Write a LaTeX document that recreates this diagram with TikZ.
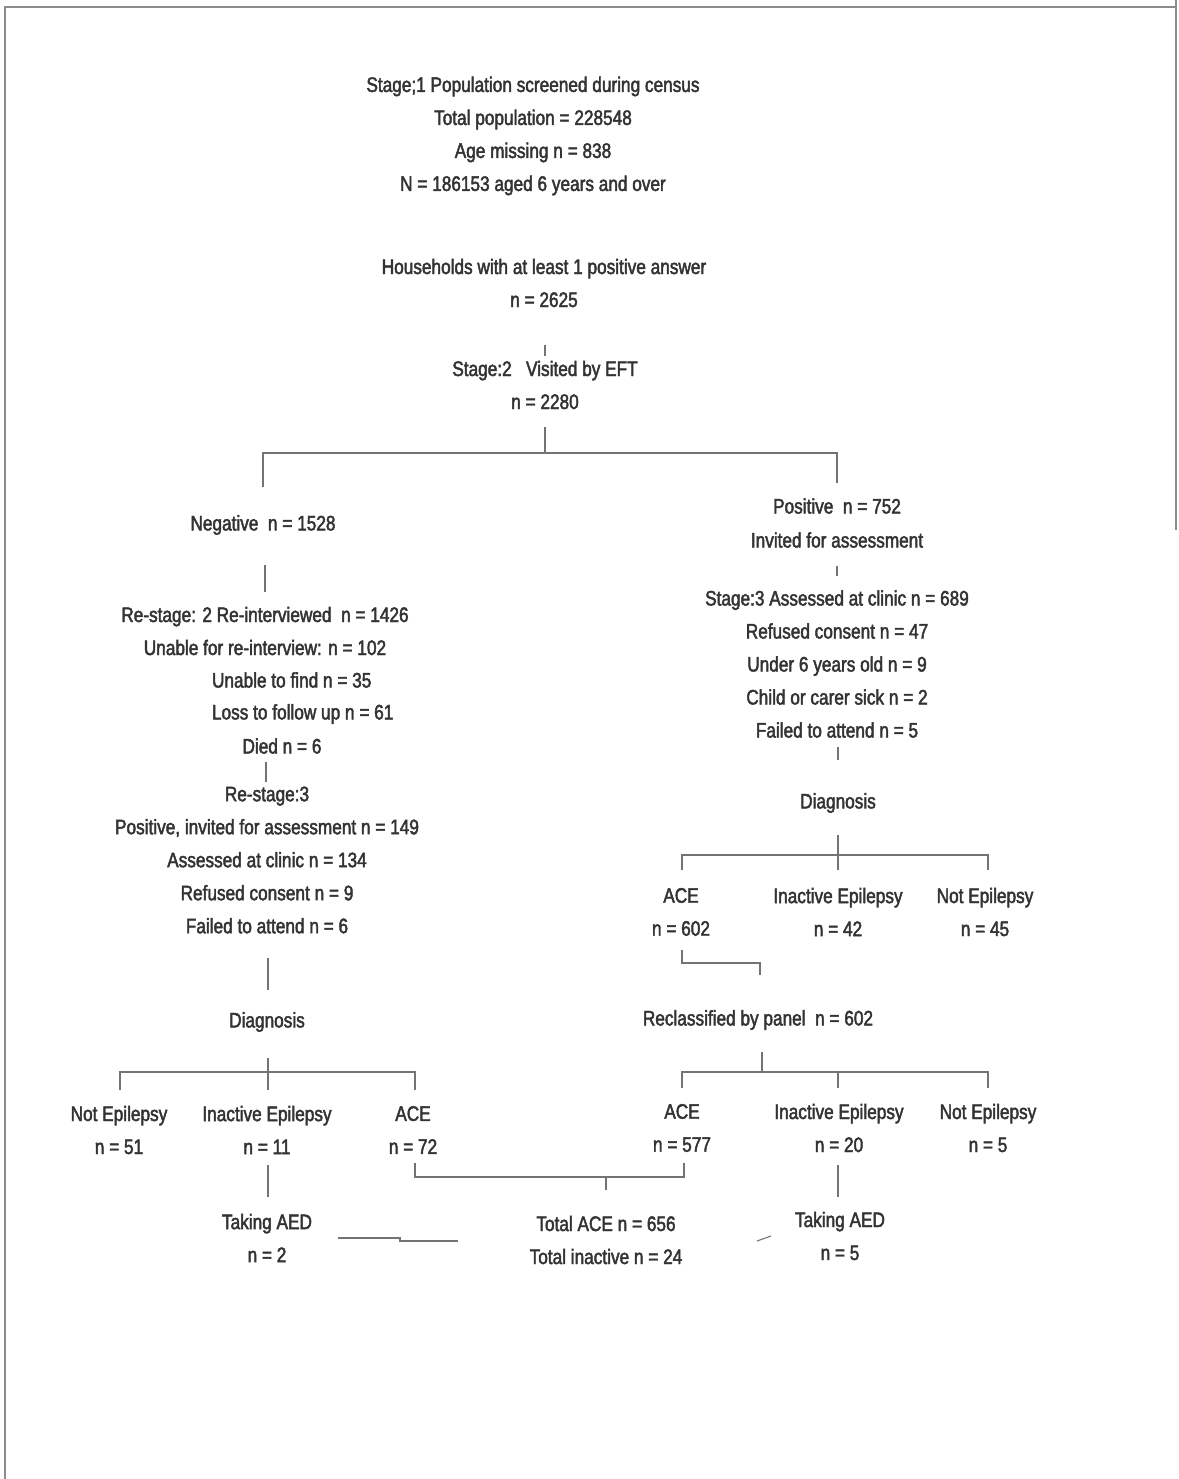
\documentclass[tikz,border=0pt]{standalone}
\usepackage{fontspec}
\setmainfont[FakeStretch=0.82]{Liberation Sans}
\begin{document}
\begin{tikzpicture}[x=1pt,y=-1pt,
  lbl/.style={inner sep=0pt,outer sep=0pt,align=center,text=black!80,
    font=\fontsize{21}{33}\selectfont,
    execute at begin node={\special{pdf:code 2 Tr 0.45 w}},
    execute at end node={\special{pdf:code 0 Tr}}},
  conn/.style={draw=black!55,line width=1.1pt},
  frame/.style={draw=black!45,line width=1.2pt}]
\useasboundingbox (0,0) rectangle (1178,1479);
% scan page edges
\coordinate (fTL) at (5,7);
\coordinate (fTR) at (1176,7);
\coordinate (fBL) at (5,1479);
\coordinate (fRt) at (1176,0);
\coordinate (fRb) at (1176,530);
\draw[frame] (fBL) -- (fTL) -- (fTR);
\draw[frame] (fRt) -- (fRb);

% ---------- nodes ----------
\node[lbl] (s1) at (533,136) {Stage;1 Population screened during census\\Total population = 228548\\Age missing n = 838\\N = 186153 aged 6 years and over};
\node[lbl] (hh) at (544,283) {Households with at least 1 positive answer\\n = 2625};
\node[lbl] (s2) at (545,385) {Stage:2\ \ \ Visited by EFT\\n = 2280};
\node[lbl] (neg) at (263,525) {Negative\ \ n = 1528};
\node[lbl] (pos) at (837,523) {Positive\ \ n = 752\\[1pt]Invited for assessment};
\node[lbl] (s3) at (837,664) {Stage:3 Assessed at clinic n = 689\\Refused consent n = 47\\Under 6 years old n = 9\\Child or carer sick n = 2\\Failed to attend n = 5};
\node[lbl] (rdiag) at (838,803) {Diagnosis};
\node[lbl] (race) at (681,912) {ACE\\n = 602};
\node[lbl] (rinact) at (838,912) {Inactive Epilepsy\\n = 42};
\node[lbl] (rnot) at (985,912) {Not Epilepsy\\n = 45};
\node[lbl] (recl) at (758,1020) {Reclassified by panel\ \ n = 602};
\node[lbl] (race2) at (682,1128) {ACE\\n = 577};
\node[lbl] (rinact2) at (839,1128) {Inactive Epilepsy\\n = 20};
\node[lbl] (rnot2) at (988,1128) {Not Epilepsy\\n = 5};
\node[lbl] (raed) at (840,1236) {Taking AED\\n = 5};

\node[lbl] (rest2) at (265,631) {Re-stage: 2 Re-interviewed\ \ n = 1426\\Unable for re-interview: n = 102};
\node[lbl,anchor=west] (unfind) at (212,680) {Unable to find n = 35};
\node[lbl,anchor=west] (loss) at (212,714) {Loss to follow up n = 61};
\node[lbl] (died) at (282,746) {Died n = 6};
\node[lbl] (rest3) at (267,860) {Re-stage:3\\Positive, invited for assessment n = 149\\Assessed at clinic n = 134\\Refused consent n = 9\\Failed to attend n = 6};
\node[lbl] (ldiag) at (267,1022) {Diagnosis};
\node[lbl] (lnot) at (119,1130) {Not Epilepsy\\n = 51};
\node[lbl] (linact) at (267,1130) {Inactive Epilepsy\\n = 11};
\node[lbl] (lace) at (413,1130) {ACE\\n = 72};
\node[lbl] (laed) at (267,1238) {Taking AED\\n = 2};
\node[lbl] (total) at (606,1240) {Total ACE n = 656\\Total inactive n = 24};

% ---------- level coordinates ----------
\coordinate (y345) at (0,345);  \coordinate (y356) at (0,356);
\coordinate (y427) at (0,427);  \coordinate (y453) at (0,453);
\coordinate (y487) at (0,487);  \coordinate (y483) at (0,483);
\coordinate (y565) at (0,565);  \coordinate (y592) at (0,592);
\coordinate (y566) at (0,566);  \coordinate (y576) at (0,576);
\coordinate (y747) at (0,747);  \coordinate (y760) at (0,760);
\coordinate (y835) at (0,835);  \coordinate (y855) at (0,855);
\coordinate (y870) at (0,870);
\coordinate (y950) at (0,950);  \coordinate (y963) at (0,963);
\coordinate (y975) at (0,975);
\coordinate (y1052) at (0,1052); \coordinate (y1072) at (0,1072);
\coordinate (y1088) at (0,1088); \coordinate (y1090) at (0,1090);
\coordinate (y1058) at (0,1058);
\coordinate (y1165) at (0,1165); \coordinate (y1197) at (0,1197);
\coordinate (y1163) at (0,1163); \coordinate (y1177) at (0,1177);
\coordinate (y1190) at (0,1190);
\coordinate (y762) at (0,762);  \coordinate (y782) at (0,782);
\coordinate (y958) at (0,958);  \coordinate (y990) at (0,990);

% ---------- connectors ----------
% households -> stage 2
\draw[conn] (s2 |- y345) -- (s2 |- y356);
% stage 2 split
\draw[conn] (s2 |- y427) -- (s2 |- y453);
\draw[conn] (neg |- y487) -- (neg |- y453) -- (pos |- y453) -- (pos |- y483);
% negative -> re-stage 2
\draw[conn] ([xshift=2pt]neg.center |- y565) -- ([xshift=2pt]neg.center |- y592);
% positive -> stage 3
\draw[conn] (s3 |- y566) -- (s3 |- y576);
% stage 3 -> diagnosis
\draw[conn] (rdiag |- y747) -- (rdiag |- y760);
% right diagnosis tree
\draw[conn] (rdiag |- y835) -- (rdiag |- y870);
\draw[conn] ([xshift=1pt]race.center |- y870) -- ([xshift=1pt]race.center |- y855)
  -- ([xshift=3pt]rnot.center |- y855) -- ([xshift=3pt]rnot.center |- y870);
% ACE 602 -> reclassified
\draw[conn] ([xshift=1pt]race.center |- y950) -- ([xshift=1pt]race.center |- y963)
  -- ([xshift=2pt]recl.center |- y963) -- ([xshift=2pt]recl.center |- y975);
% reclassified tree
\draw[conn] ([xshift=4pt]recl.center |- y1052) -- ([xshift=4pt]recl.center |- y1072);
\draw[conn] (race2 |- y1088) -- (race2 |- y1072) -- (rnot2 |- y1072) -- (rnot2 |- y1088);
\draw[conn] ([xshift=-1pt]rinact2.center |- y1072) -- ([xshift=-1pt]rinact2.center |- y1088);
% inactive 20 -> taking AED
\draw[conn] ([xshift=-1pt]rinact2.center |- y1165) -- ([xshift=-1pt]rinact2.center |- y1197);
% died -> re-stage 3
\draw[conn] ([xshift=-1pt]rest3.center |- y762) -- ([xshift=-1pt]rest3.center |- y782);
% re-stage 3 -> diagnosis
\draw[conn] ([xshift=1pt]ldiag.center |- y958) -- ([xshift=1pt]ldiag.center |- y990);
% left diagnosis tree
\draw[conn] ([xshift=1pt]ldiag.center |- y1058) -- ([xshift=1pt]ldiag.center |- y1090);
\draw[conn] ([xshift=1pt]lnot.center |- y1090) -- ([xshift=1pt]lnot.center |- y1072)
  -- ([xshift=2pt]lace.center |- y1072) -- ([xshift=2pt]lace.center |- y1090);
% inactive 11 -> taking AED
\draw[conn] ([xshift=1pt]linact.center |- y1165) -- ([xshift=1pt]linact.center |- y1197);
% ACE 72 + ACE 577 -> total
\draw[conn] ([xshift=2pt]lace.center |- y1163) -- ([xshift=2pt]lace.center |- y1177)
  -- ([xshift=2pt]race2.center |- y1177) -- ([xshift=2pt]race2.center |- y1163);
\draw[conn] (total |- y1177) -- (total |- y1190);
% taking AED (left) -> total
\coordinate (la1) at (338,1238);
\coordinate (la2) at (400,1238);
\coordinate (la3) at (400,1241);
\coordinate (la4) at (458,1241);
\draw[conn] (la1) -- (la2) -- (la3) -- (la4);
% taking AED (right) stub
\coordinate (ra1) at (757,1241);
\coordinate (ra2) at (771,1236);
\draw[conn] (ra1) -- (ra2);
\end{tikzpicture}
\end{document}
